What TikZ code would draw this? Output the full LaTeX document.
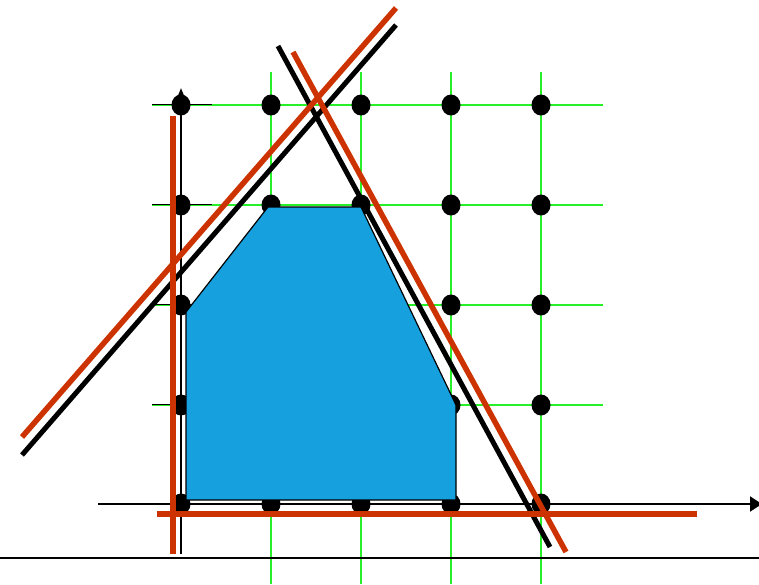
\documentclass[tikz,border=0pt]{standalone}
\usetikzlibrary{arrows.meta}
\definecolor{gridgreen}{RGB}{40,240,40}
\definecolor{polyblue}{RGB}{22,160,222}
\definecolor{cutred}{RGB}{204,51,0}
\tikzset{
  gridline/.style={draw=gridgreen,line width=1.3pt},
  axisline/.style={draw=black,line width=2pt},
  tickline/.style={draw=black,line width=1.6pt},
  latdot/.style={fill=black},
  blackcut/.style={draw=black,line width=5pt},
  redcut/.style={draw=cutred,line width=5.5pt},
  feasible/.style={fill=polyblue,draw=black,line width=1.2pt,line join=miter}
}
\begin{document}
\begin{tikzpicture}[x=1pt,y=-1pt]
\useasboundingbox (0,0) rectangle (759,584);
% grid
\foreach \gx in {271,361,451,541} \draw[gridline] (\gx,72) -- (\gx,584);
\foreach \gy in {105,205,305,405} \draw[gridline] (152,\gy) -- (603,\gy);
\foreach \gy in {105,205,305,405} \draw[tickline] (152,\gy-0.6) -- (212,\gy-0.6);
% bottom line
\draw[black,line width=1.5pt] (0,558) -- (759,558);
% axes
\coordinate (xs) at (98,504);
\coordinate (xe) at (762,504);
\coordinate (ys) at (181,554);
\coordinate (ye) at (181,88);
\draw[axisline,-{Triangle[length=12pt,width=15pt]}] (xs) -- (xe);
\draw[axisline,-{Triangle[length=12pt,width=9pt]}] (ys) -- (ye);
% lattice points
\foreach \gx in {181,271,361,451,541}
  \foreach \gy in {105,205,305,405,504}
    \fill[latdot] (\gx,\gy) ellipse (9.5 and 10.5);
% feasible polygon
\draw[feasible] (186,500) -- (186,312) -- (268,207) -- (361,207) -- (456,405) -- (456,500) -- cycle;
% cutting lines
\coordinate (b1s) at (22,455);
\coordinate (b1e) at (396,25);
\coordinate (b2s) at (278,46);
\coordinate (b2e) at (550,547);
\coordinate (r1s) at (22,437);
\coordinate (r1e) at (396,8);
\coordinate (r2s) at (293,52);
\coordinate (r2e) at (566,552);
\coordinate (rvs) at (173,116);
\coordinate (rve) at (173,554);
\coordinate (rhs) at (157,514);
\coordinate (rhe) at (697,514);
\draw[blackcut] (b1s) -- (b1e);
\draw[blackcut] (b2s) -- (b2e);
\draw[redcut] (r1s) -- (r1e);
\draw[redcut] (r2s) -- (r2e);
\draw[redcut] (rvs) -- (rve);
\draw[redcut] (rhs) -- (rhe);
\end{tikzpicture}
\end{document}
